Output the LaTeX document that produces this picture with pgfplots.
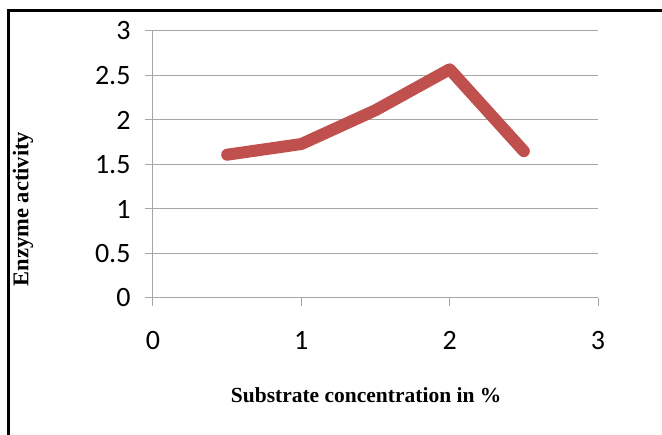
\documentclass[border=0pt]{standalone}
\usepackage{pgfplots}
\pgfplotsset{compat=1.18}
\usepackage{fontspec}
\setmainfont{Liberation Serif}
\newfontfamily\calibri{Carlito}
\definecolor{lred}{HTML}{C0504D}
\definecolor{gridc}{HTML}{A6A6A6}
\begin{document}
\begin{tikzpicture}[x=1pt,y=1pt]
\useasboundingbox (0,0) rectangle (662,435);
\draw[black,line width=3pt] (8,-5) -- (8,424) -- (667,424);
\begin{axis}[
  at={(153pt,137pt)}, anchor=south west,
  scale only axis, width=445pt, height=267pt,
  xmin=0, xmax=3, ymin=0, ymax=3,
  xtick={0,1,2,3}, ytick={0,0.5,1,1.5,2,2.5,3},
  axis x line=bottom, axis y line=left,
  axis line style={gridc, line width=1pt, -},
  tick style={gridc, line width=1pt},
  tick align=outside, major tick length=8pt,
  ymajorgrids, grid style={gridc, line width=1pt},
  every outer x axis line/.append style={-},
  every outer y axis line/.append style={-},
  tick label style={font=\calibri\fontsize{28}{32}\selectfont, text=black},
  /pgf/number format/assume math mode=true,
  xticklabel style={yshift=-22pt},
  yticklabel style={xshift=-11pt},
  xlabel={\textbf{Substrate concentration in \%}},
  ylabel={\textbf{Enzyme activity}},
  xlabel style={font=\fontsize{21.5}{24}\selectfont, at={(axis description cs:0.479,-0.363)}, anchor=center},
  ylabel style={font=\fontsize{22.5}{25}\selectfont, at={(axis description cs:-0.292,0.333)}, anchor=center, rotate=0},
  clip=false,
]
\addplot[lred, line width=12pt, line cap=round, line join=round] coordinates {
  (0.5,1.61) (1,1.73) (1.5,2.11) (2,2.57) (2.5,1.65)
};
\end{axis}
\end{tikzpicture}
\end{document}
